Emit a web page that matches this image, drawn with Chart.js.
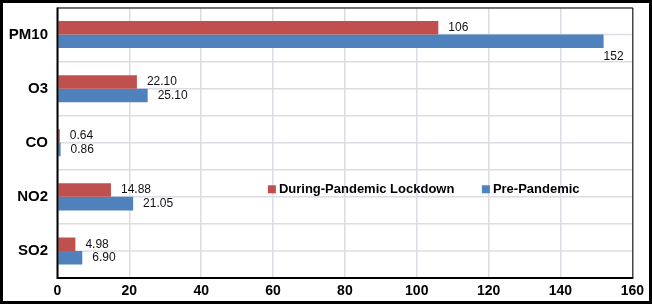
<!DOCTYPE html>
<html>
<head>
<meta charset="utf-8">
<script src="https://cdn.jsdelivr.net/npm/chart.js@4/dist/chart.umd.min.js"></script>
<style>
  html, body { margin: 0; padding: 0; background: #fff; }
  #wrap { width: 652px; height: 304px; box-sizing: border-box; border: 3px solid #000; background: #fff; }
  canvas { display: block; }
</style>
</head>
<body>
<div id="wrap"><canvas id="stage" width="646" height="298"></canvas></div>
<script>
var pollutants = ['PM10', 'O3', 'CO', 'NO2', 'SO2'];
var duringLockdown = [106, 22.10, 0.64, 14.88, 4.98];
var prePandemic = [152, 25.10, 0.86, 21.05, 6.90];
var seriesNames = ['During-Pandemic Lockdown', 'Pre-Pandemic'];
var xTicks = [0, 20, 40, 60, 80, 100, 120, 140, 160];

var red = '#c0504d';
var blue = '#4f81bd';
var gridCol = '#dcdce4';
var font = '"Liberation Sans", Arial, Helvetica, sans-serif';

function fmt(v) {
  return Number.isInteger(v) ? String(v) : v.toFixed(2);
}

// extra gridlines through the middle of each category
var midGrid = {
  id: 'midGrid',
  beforeDatasetsDraw(chart) {
    var ctx = chart.ctx;
    var a = chart.chartArea;
    var ys = chart.scales.y;
    ctx.save();
    ctx.strokeStyle = gridCol;
    ctx.lineWidth = 1.5;
    for (var i = 0; i < pollutants.length; i++) {
      var y = ys.getPixelForValue(i);
      ctx.beginPath();
      ctx.moveTo(a.left, y);
      ctx.lineTo(a.right, y);
      ctx.stroke();
    }
    ctx.restore();
  }
};

// value labels next to each bar
var valueLabels = {
  id: 'valueLabels',
  afterDatasetsDraw(chart) {
    var ctx = chart.ctx;
    var area = chart.chartArea;
    ctx.save();
    ctx.font = '12px ' + font;
    ctx.fillStyle = '#111';
    ctx.textBaseline = 'middle';
    ctx.textAlign = 'left';
    chart.data.datasets.forEach(function(ds, i) {
      var meta = chart.getDatasetMeta(i);
      meta.data.forEach(function(bar, j) {
        var txt = fmt(ds.data[j]);
        var w = ctx.measureText(txt).width;
        if (bar.x + 10 + w > area.right - 4) {
          ctx.fillText(txt, bar.x, bar.y + 15);
        } else {
          ctx.fillText(txt, bar.x + 10, bar.y);
        }
      });
    });
    ctx.restore();
  }
};

// plot frame + legend inside the plot
var frameAndLegend = {
  id: 'frameAndLegend',
  afterDraw(chart) {
    var ctx = chart.ctx;
    var a = chart.chartArea;
    ctx.save();
    ctx.strokeStyle = '#000';
    ctx.lineWidth = 1;
    ctx.beginPath();
    ctx.moveTo(a.left, a.top + 0.5);
    ctx.lineTo(a.right + 0.5, a.top + 0.5);
    ctx.lineTo(a.right + 0.5, a.bottom);
    ctx.stroke();
    ctx.lineWidth = 2;
    ctx.beginPath();
    ctx.moveTo(a.left, a.top);
    ctx.lineTo(a.left, a.bottom);
    ctx.lineTo(a.right + 1, a.bottom);
    ctx.stroke();

    var lx = a.left + (a.right - a.left) * 0.366;
    var ly = a.top + (a.bottom - a.top) * 0.672;
    var cols = [red, blue];
    var gap = [0, 214];
    ctx.font = 'bold 13px ' + font;
    ctx.textBaseline = 'middle';
    ctx.textAlign = 'left';
    for (var i = 0; i < seriesNames.length; i++) {
      var x = lx + gap[i];
      ctx.fillStyle = cols[i];
      ctx.fillRect(x, ly - 4, 8, 8);
      ctx.fillStyle = '#000';
      ctx.fillText(seriesNames[i], x + 11, ly);
    }
    ctx.restore();
  }
};

new Chart(document.getElementById('stage'), {
  type: 'bar',
  data: {
    labels: pollutants,
    datasets: [
      { label: seriesNames[0], data: duringLockdown, backgroundColor: red, categoryPercentage: 0.5, barPercentage: 1.0 },
      { label: seriesNames[1], data: prePandemic, backgroundColor: blue, categoryPercentage: 0.5, barPercentage: 1.0 }
    ]
  },
  options: {
    indexAxis: 'y',
    responsive: false,
    animation: false,
    layout: { padding: { top: 4.5, right: 16, bottom: 0, left: 0 } },
    plugins: {
      legend: { display: false },
      tooltip: { enabled: false }
    },
    scales: {
      x: {
        type: 'linear',
        min: 0,
        max: 160,
        afterBuildTicks: function(scale) {
          scale.ticks = xTicks.map(function(v) { return { value: v }; });
        },
        afterFit: function(scale) { scale.height = 23; },
        grid: { color: gridCol, lineWidth: 1.5, drawTicks: false },
        border: { display: false },
        ticks: { color: '#000', padding: 5, font: { family: font, size: 14, weight: 'bold' } }
      },
      y: {
        type: 'category',
        offset: true,
        afterFit: function(scale) {
          scale.width = 54.5;
          scale.paddingTop = 0;
          scale.paddingBottom = 0;
        },
        grid: { offset: true, color: gridCol, lineWidth: 1.5, drawTicks: false },
        border: { display: false },
        ticks: { color: '#000', padding: 9.5, font: { family: font, size: 15, weight: 'bold' } }
      }
    }
  },
  plugins: [midGrid, valueLabels, frameAndLegend]
});
</script>
</body>
</html>
